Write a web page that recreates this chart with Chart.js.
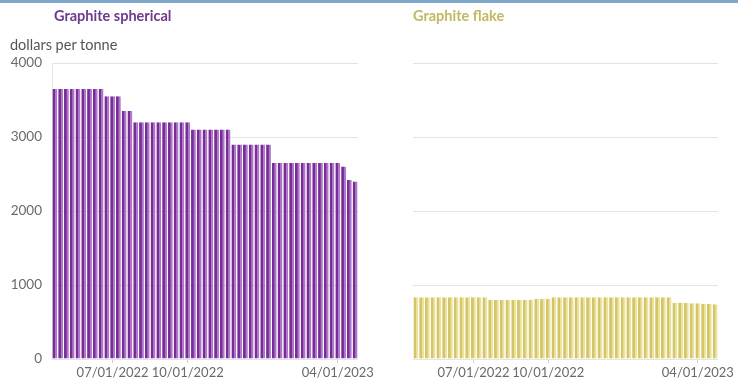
<!DOCTYPE html>
<html>
<head>
<meta charset="utf-8">
<script src="https://cdn.jsdelivr.net/npm/chart.js@4"></script>
<style>
  html, body { margin: 0; padding: 0; background: #fff; }
  body { width: 738px; height: 382px; position: relative; overflow: hidden; font-family: Lato, "Noto Sans", sans-serif; }
  .topbar { position: absolute; left: 0; top: 0; width: 738px; height: 3px; background: #7ea7cb; }
  canvas { position: absolute; left: 0; top: 0; }
  .title { position: absolute; top: 7px; font-size: 14.5px; font-weight: bold; }
  .unit { position: absolute; left: 10px; top: 36px; font-size: 14.5px; color: #555; }
</style>
</head>
<body>
<div class="topbar"></div>
<canvas id="js-spherical" width="738" height="382"></canvas>
<canvas id="js-flake" width="738" height="382"></canvas>
<div class="title" style="left:54px;color:#6d3a8e">Graphite spherical</div>
<div class="title" style="left:413px;color:#c3b862">Graphite flake</div>
<div class="unit">dollars per tonne</div>
<script>
'use strict'

// weekly prices, one bar per week
const weeks = [
  '04/22/2022', '04/29/2022', '05/06/2022', '05/13/2022', '05/20/2022', '05/27/2022',
  '06/03/2022', '06/10/2022', '06/17/2022', '06/24/2022', '07/01/2022', '07/08/2022',
  '07/15/2022', '07/22/2022', '07/29/2022', '08/05/2022', '08/12/2022', '08/19/2022',
  '08/26/2022', '09/02/2022', '09/09/2022', '09/16/2022', '09/23/2022', '09/30/2022',
  '10/07/2022', '10/14/2022', '10/21/2022', '10/28/2022', '11/04/2022', '11/11/2022',
  '11/18/2022', '11/25/2022', '12/02/2022', '12/09/2022', '12/16/2022', '12/23/2022',
  '12/30/2022', '01/06/2023', '01/13/2023', '01/20/2023', '01/27/2023', '02/03/2023',
  '02/10/2023', '02/17/2023', '02/24/2023', '03/03/2023', '03/10/2023', '03/17/2023',
  '03/24/2023', '03/31/2023', '04/07/2023', '04/14/2023', '04/21/2023'
]

const sphericalPrices = [
  3650, 3650, 3650, 3650, 3650, 3650, 3650, 3650, 3650,
  3550, 3550, 3550,
  3350, 3350,
  3200, 3200, 3200, 3200, 3200, 3200, 3200, 3200, 3200, 3200,
  3100, 3100, 3100, 3100, 3100, 3100, 3100,
  2900, 2900, 2900, 2900, 2900, 2900, 2900,
  2650, 2650, 2650, 2650, 2650, 2650, 2650, 2650, 2650, 2650, 2650, 2650,
  2600,
  2420, 2400
]

const flakePrices = [
  835, 835, 835, 835, 835, 835, 835, 835, 835, 835, 835, 835, 835,
  800, 800, 800, 800, 800, 800, 800, 800,
  815, 815, 815,
  835, 835, 835, 835, 835, 835, 835, 835, 835, 835, 835,
  835, 835, 835, 835, 835, 835, 835, 835, 835, 835,
  760, 760, 760, 755, 755,
  745, 745, 740
]

// which week carries which axis label
const tickWeeks = ['07/01/2022', '09/30/2022', '03/31/2023']
const tickLabels = ['07/01/2022', '10/01/2022', '04/01/2023']
const yTicks = [0, 1000, 2000, 3000, 4000]

const gridColor = '#e4e4e4'
const textColor = '#6a6a6a'

const createPriceChart = (id, values, colors, area, showYLabels) => {
  const data = {
    labels: weeks,
    datasets: [{
      data: values,
      backgroundColor: colors.dark,
      borderColor: colors.light,
      borderWidth: { left: 0, right: 2, top: 0, bottom: 0 },
      borderSkipped: false,
      categoryPercentage: 1,
      barPercentage: 0.84,
    }]
  }

  const config = {
    type: 'bar',
    data: data,
    options: {
      responsive: false,
      animation: false,
      layout: {
        padding: { top: 63, bottom: 0, left: area.left, right: area.right }
      },
      plugins: {
        legend: { display: false },
        tooltip: { enabled: false },
      },
      scales: {
        x: {
          offset: true,
          border: { display: false },
          grid: {
            offset: false,
            drawOnChartArea: false,
            tickLength: 4,
            color: (ctx) => tickWeeks.includes(weeks[ctx.index]) ? '#d0d0d0' : 'transparent',
          },
          ticks: {
            autoSkip: false,
            maxRotation: 0,
            padding: 2,
            color: textColor,
            font: { family: 'Lato', size: 13 },
            callback: (value, index) => {
              const i = tickWeeks.indexOf(weeks[index])
              return i >= 0 ? tickLabels[i] : ''
            }
          },
          afterFit: (scale) => { scale.height = 23 }
        },
        y: {
          min: 0,
          max: 4000,
          afterBuildTicks: (scale) => { scale.ticks = yTicks.map(v => ({ value: v })) },
          border: { display: showYLabels, color: gridColor },
          grid: { color: gridColor, drawTicks: false },
          ticks: {
            display: showYLabels,
            padding: 10,
            color: textColor,
            font: { family: 'Lato', size: 13.5 },
            callback: (value) => String(value),
          },
          afterFit: (scale) => { scale.width = showYLabels ? 52 : 0 }
        }
      }
    }
  }

  new Chart(document.getElementById(id), config)
}

createPriceChart('js-spherical', sphericalPrices,
  { dark: '#792c98', light: '#ad78ca' }, { left: 0, right: 380 }, true)
createPriceChart('js-flake', flakePrices,
  { dark: '#d3c56a', light: '#ede497' }, { left: 413, right: 20 }, false)
</script>
</body>
</html>
